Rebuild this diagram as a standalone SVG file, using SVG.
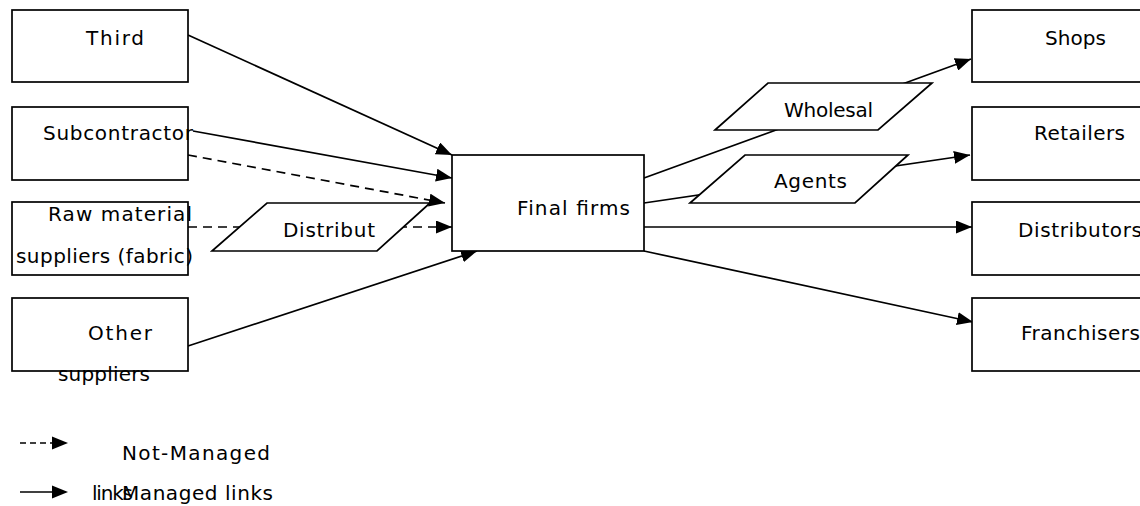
<svg xmlns="http://www.w3.org/2000/svg" width="1140" height="506" viewBox="0 0 1140 506">
<style>
.box{fill:#fff;stroke:#000;stroke-width:1.7}
.para{fill:#fff;stroke:#000;stroke-width:1.7}
.t{font-family:"DejaVu Sans","Liberation Sans",sans-serif;font-size:20px;fill:#000}
.ln{fill:none;stroke:#000;stroke-width:1.7}
.dash{stroke-dasharray:9,6}
</style>
<defs>
<marker id="ah" markerUnits="userSpaceOnUse" markerWidth="16" markerHeight="13" refX="16" refY="6.5" orient="auto">
<path d="M0,0 L16,6.5 L0,13 z" fill="#000"/>
</marker>
</defs>
<rect width="1140" height="506" fill="#fff"/>
<g id="connectors">
<line class="ln" x1="188" y1="35" x2="452" y2="155" marker-end="url(#ah)"/>
<line class="ln" x1="193" y1="131" x2="452" y2="178" marker-end="url(#ah)"/>
<line class="ln dash" x1="188" y1="155" x2="445" y2="203" marker-end="url(#ah)"/>
<line class="ln dash" x1="188" y1="227" x2="452" y2="227" marker-end="url(#ah)"/>
<line class="ln" x1="188" y1="346" x2="477" y2="251" marker-end="url(#ah)"/>
<line class="ln" x1="644" y1="178" x2="971" y2="59" marker-end="url(#ah)"/>
<line class="ln" x1="644" y1="203" x2="970" y2="155" marker-end="url(#ah)"/>
<line class="ln" x1="644" y1="227" x2="972" y2="227" marker-end="url(#ah)"/>
<line class="ln" x1="644" y1="251" x2="973" y2="322" marker-end="url(#ah)"/>
</g>
<g id="third"><rect class="box" x="12" y="10" width="176" height="72"/><text class="t" x="86" y="45" textLength="58">Third</text></g>
<g id="subcontractor"><rect class="box" x="12" y="107" width="176" height="73"/><text class="t" x="43" y="140" textLength="150">Subcontractor</text></g>
<g id="raw"><rect class="box" x="12" y="202" width="176" height="73"/><text class="t" x="48" y="221" textLength="144">Raw material</text><text class="t" x="16" y="263" textLength="177">suppliers (fabric)</text></g>
<g id="other"><rect class="box" x="12" y="298" width="176" height="73"/><text class="t" x="88" y="340" textLength="64">Other</text><text class="t" x="58" y="381" textLength="92">suppliers</text></g>
<g id="distribut"><polygon class="para" points="267,203 430,203 377,251 212,251"/><text class="t" x="283" y="237" textLength="92">Distribut</text></g>
<g id="final"><rect class="box" x="452" y="155" width="192" height="96"/><text class="t" x="517" y="215" textLength="113">Final firms</text></g>
<g id="wholesal"><polygon class="para" points="768,83 932,83 878,130 715,130"/><text class="t" x="784" y="117" textLength="89">Wholesal</text></g>
<g id="agents"><polygon class="para" points="745,155 908,155 855,203 690,203"/><text class="t" x="774" y="188" textLength="73">Agents</text></g>
<g id="shops"><rect class="box" x="972" y="10" width="176" height="72"/><text class="t" x="1045" y="45" textLength="61">Shops</text></g>
<g id="retailers"><rect class="box" x="972" y="107" width="176" height="73"/><text class="t" x="1034" y="140" textLength="91">Retailers</text></g>
<g id="distributors"><rect class="box" x="972" y="202" width="176" height="73"/><text class="t" x="1018" y="237" textLength="124">Distributors</text></g>
<g id="franchisers"><rect class="box" x="972" y="298" width="176" height="73"/><text class="t" x="1021" y="340" textLength="119">Franchisers</text></g>
<g id="legend">
<line class="ln" x1="20" y1="443" x2="52" y2="443" stroke-dasharray="6,4"/>
<path d="M52,436.5 L68,443 L52,449.5 z" fill="#000"/>
<line class="ln" x1="20" y1="492" x2="54" y2="492"/>
<path d="M52,485.5 L68,492 L52,498.5 z" fill="#000"/>
<text class="t" x="122" y="460" textLength="148">Not-Managed</text>
<text class="t" x="92" y="500" textLength="41">links</text>
<text class="t" x="122" y="500" textLength="151">Managed links</text>
</g>
</svg>
